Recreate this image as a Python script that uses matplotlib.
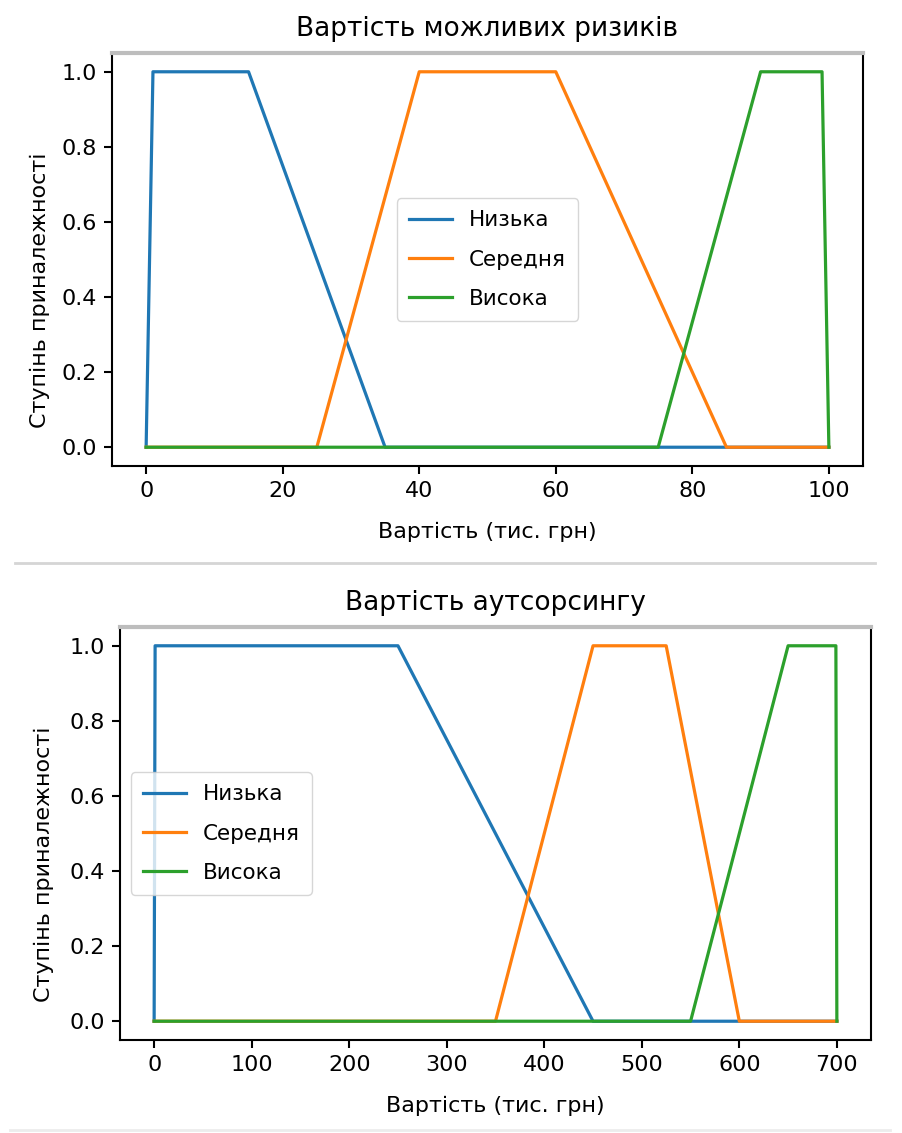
import matplotlib
matplotlib.use("Agg")
import matplotlib.pyplot as plt
from matplotlib.lines import Line2D

plt.rcParams['font.family'] = ['DejaVu Sans']

# ---- data ----
labels = ["Низька", "Середня", "Висока"]

risk_low_x = [0, 1, 15, 35, 100]
risk_low_y = [0, 1, 1, 0, 0]
risk_mid_x = [0, 25, 40, 60, 85, 100]
risk_mid_y = [0, 0, 1, 1, 0, 0]
risk_high_x = [0, 75, 90, 99, 100]
risk_high_y = [0, 0, 1, 1, 0]

out_low_x = [0, 1, 250, 450, 700]
out_low_y = [0, 1, 1, 0, 0]
out_mid_x = [0, 350, 450, 525, 600, 700]
out_mid_y = [0, 0, 1, 1, 0, 0]
out_high_x = [0, 550, 650, 699, 700]
out_high_y = [0, 0, 1, 1, 0]

titles = ["Вартість можливих ризиків", "Вартість аутсорсингу"]
xlabel = "Вартість (тис. грн)"
ylabel = "Ступінь приналежності"

W, H = 902, 1133
fig = plt.figure(figsize=(W / 100, H / 100), dpi=100)

def px_axes(l, t, r, b):
    return fig.add_axes([l / W, 1 - b / H, (r - l) / W, (b - t) / H])

ax1 = px_axes(112, 53, 863, 466)
ax2 = px_axes(120, 627, 871, 1040)

series = [
    [(risk_low_x, risk_low_y), (risk_mid_x, risk_mid_y), (risk_high_x, risk_high_y)],
    [(out_low_x, out_low_y), (out_mid_x, out_mid_y), (out_high_x, out_high_y)],
]
colors = ['#1f77b4', '#ff7f0e', '#2ca02c']
ylab_x = [-0.083, -0.088]

for ax, ser, title, loc, lx in zip([ax1, ax2], series, titles, ['center', 'center left'], ylab_x):
    for (x, y), lab, c in zip(ser, labels, colors):
        ax.plot(x, y, color=c, lw=2.3, label=lab)
    ax.set_title(title, fontsize=19, pad=12)
    ax.set_xlabel(xlabel, fontsize=16, labelpad=15)
    ax.set_ylabel(ylabel, fontsize=16)
    ax.yaxis.set_label_coords(lx, 0.425)
    ax.tick_params(labelsize=16, length=6, width=1.5, pad=5)
    for s in ['left', 'bottom', 'right']:
        ax.spines[s].set_linewidth(1.5)
    ax.spines['top'].set_color('#bdbdbd')
    ax.spines['top'].set_linewidth(3)
    ax.legend(loc=loc, fontsize=15.5, handlelength=2.0,
              labelspacing=0.9, borderpad=0.55)

fig.add_artist(Line2D([15 / W, 875 / W], [1 - 563 / H, 1 - 563 / H], color='#d5d5d5', lw=2))
fig.add_artist(Line2D([10 / W, 890 / W], [1 - 1130 / H, 1 - 1130 / H], color='#ececec', lw=2))

fig.savefig("out.png", dpi=100)
